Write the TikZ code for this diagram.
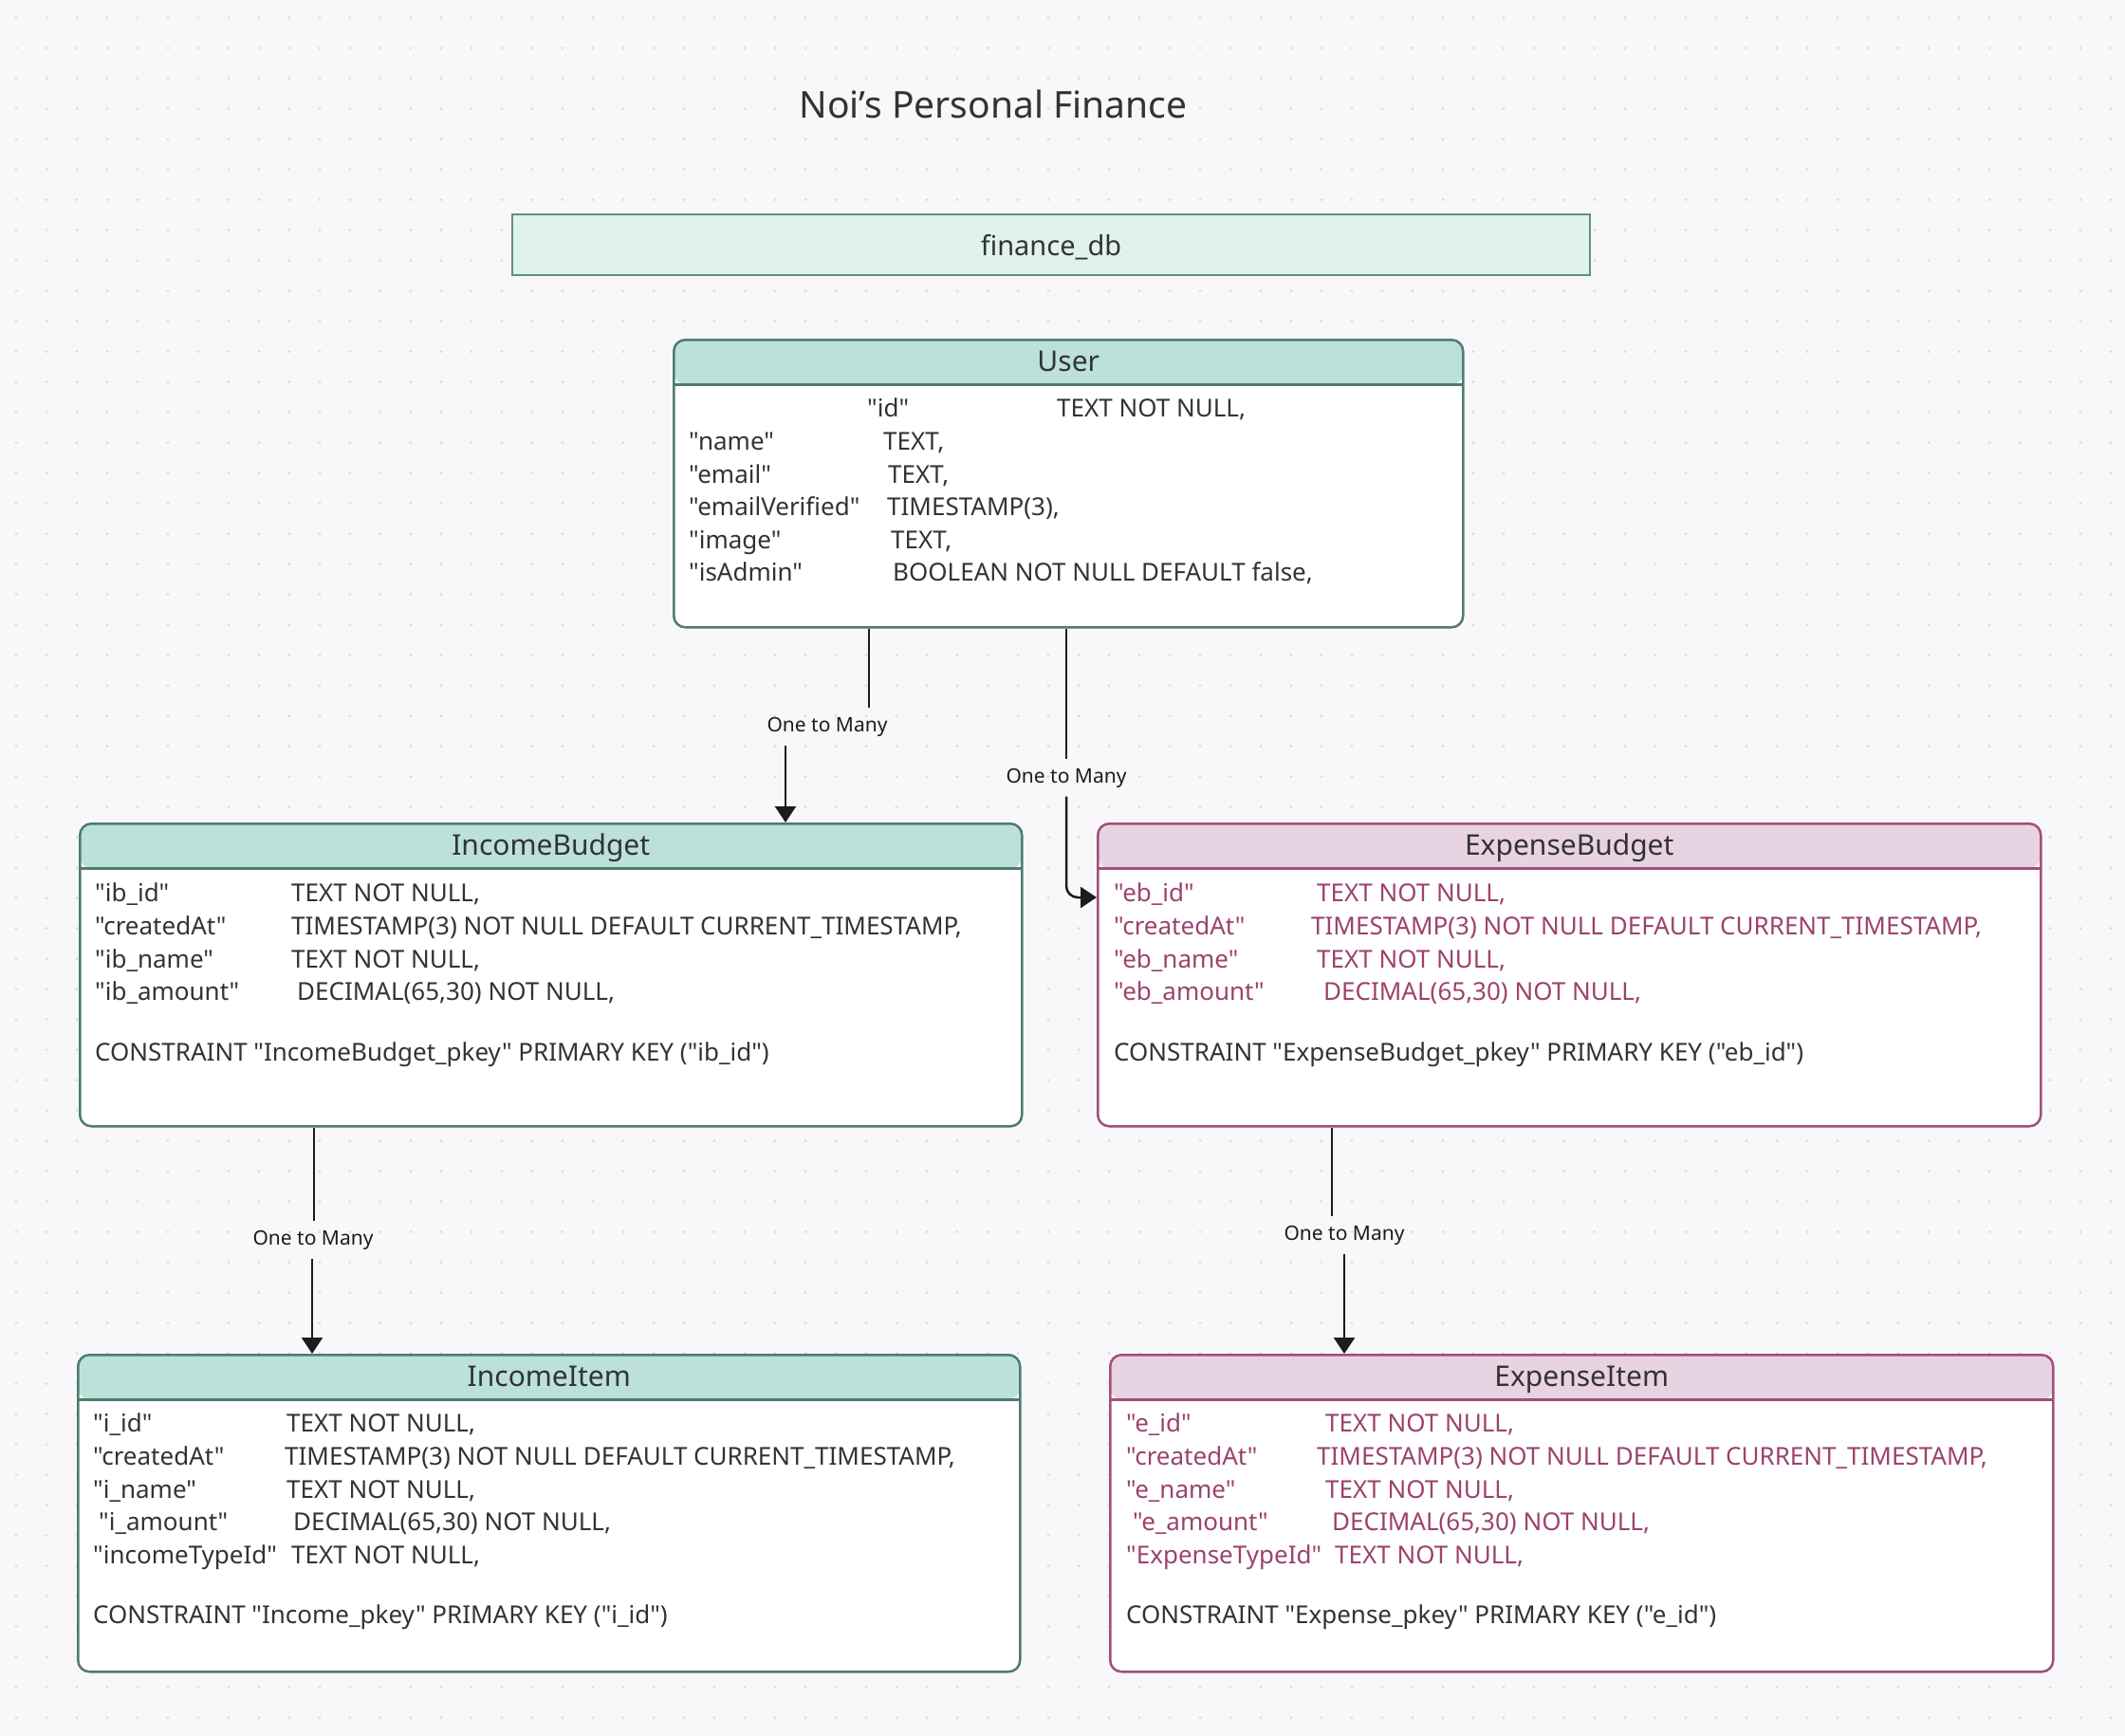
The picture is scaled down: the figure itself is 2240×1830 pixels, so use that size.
\documentclass[tikz,border=0pt]{standalone}
\usepackage{fontspec}
\setmainfont{Noto Sans}[Ligatures=TeXOff]
\usetikzlibrary{arrows.meta}

\definecolor{bgcol}{HTML}{F8F8FA}
\definecolor{dotcol}{HTML}{D9D9DF}
\definecolor{inkcol}{HTML}{333333}
\definecolor{linecol}{HTML}{1C1C1C}
\definecolor{dbfill}{HTML}{DDF1EB}
\definecolor{dbline}{HTML}{5F8F86}
\definecolor{tealhead}{HTML}{BBE1D8}
\definecolor{tealline}{HTML}{4F7B73}
\definecolor{pinkhead}{HTML}{E8D3E3}
\definecolor{pinkline}{HTML}{A24F7A}
\definecolor{pinktext}{HTML}{9C426F}

% one column of a table row: name box, then type
\newcommand\fld[3]{\makebox[#1pt][l]{#2}#3}

\tikzset{
  dbtable/.style={draw, line width=2.5pt, rounded corners=12pt, fill=white,
    inner sep=0pt, anchor=north west},
  tealtable/.style={dbtable, draw=tealline,
    path picture={
      \fill[tealhead] (path picture bounding box.north west) rectangle
        ([yshift=-47pt]path picture bounding box.north east);
      \draw[tealline, line width=2.5pt] ([yshift=-47pt]path picture bounding box.north west)
        -- ([yshift=-47pt]path picture bounding box.north east);}},
  pinktable/.style={dbtable, draw=pinkline,
    path picture={
      \fill[pinkhead] (path picture bounding box.north west) rectangle
        ([yshift=-47pt]path picture bounding box.north east);
      \draw[pinkline, line width=2.5pt] ([yshift=-47pt]path picture bounding box.north west)
        -- ([yshift=-47pt]path picture bounding box.north east);}},
  headtext/.style={text=inkcol, font=\fontsize{30}{36}\selectfont, inner sep=0pt, anchor=base},
  bodytext/.style={anchor=north west, align=left, inner sep=0pt, text=inkcol,
    font=\fontsize{26}{34.6}\selectfont, execute at begin node=\rule{0pt}{26pt}},
  lbl/.style={font=\fontsize{21}{25}\selectfont, text=linecol, inner xsep=4pt,
    inner ysep=0pt, minimum height=39pt},
  conn/.style={draw=linecol, line width=2.5pt},
  arr/.style={-{Triangle[length=17pt,width=22pt]}},
  dotrow/.style={dotcol, line width=3pt, line cap=round, dash pattern=on 0pt off 32pt}
}

\begin{document}
\begin{tikzpicture}[x=1pt, y=-1pt]

% Canvas
\useasboundingbox (0,0) rectangle (2240,1830);
\fill[bgcol] (0,0) rectangle (2240,1830);
\foreach \j in {0,...,56}
  \draw[dotrow] (17,{18.7+32*\j}) -- (2240,{18.7+32*\j});

% Title
\node[text=inkcol, font=\fontsize{39}{44}\selectfont] (title) at (1047,110) {Noi’s Personal Finance};

% Database
\node[draw=dbline, line width=2.5pt, fill=dbfill, fill opacity=0.85, text opacity=1,
  minimum width=1136pt, minimum height=64pt, text=inkcol, text depth=0pt,
  font=\fontsize{29}{34}\selectfont] (db) at (1108,258) {finance\_db};

% User
\node[tealtable, minimum width=832pt, minimum height=303pt] (user) at (709,357) {};
\node[headtext] (user-t) at ([yshift=-34.5pt]user.north) {User};
\node[bodytext] (user-b) at ([xshift=17pt,yshift=-63pt]user.north west) {%
\hspace*{188pt}\fld{200}{"id"}{TEXT NOT NULL,}\\
\fld{205}{"name"}{TEXT,}\\
\fld{210}{"email"}{TEXT,}\\
\fld{209}{"emailVerified"}{TIMESTAMP(3),}\\
\fld{213}{"image"}{TEXT,}\\
\fld{215}{"isAdmin"}{BOOLEAN NOT NULL DEFAULT false,}};

% IncomeBudget
\node[tealtable, minimum width=993pt, minimum height=319pt] (ib) at (83,867) {};
\node[headtext] (ib-t) at ([yshift=-34.5pt]ib.north) {IncomeBudget};
\node[bodytext] (ib-b) at ([xshift=17pt,yshift=-64pt]ib.north west) {%
\fld{207}{"ib\_id"}{TEXT NOT NULL,}\\
\fld{207}{"createdAt"}{TIMESTAMP(3) NOT NULL DEFAULT CURRENT\_TIMESTAMP,}\\
\fld{207}{"ib\_name"}{TEXT NOT NULL,}\\
\fld{213}{"ib\_amount"}{DECIMAL(65,30) NOT NULL,}\\[29pt]
CONSTRAINT "IncomeBudget\_pkey" PRIMARY KEY ("ib\_id")};

% ExpenseBudget
\node[pinktable, minimum width=994pt, minimum height=319pt] (eb) at (1156,867) {};
\node[headtext] (eb-t) at ([yshift=-34.5pt]eb.north) {ExpenseBudget};
\node[bodytext, text=pinktext] (eb-b) at ([xshift=18pt,yshift=-64pt]eb.north west) {%
\fld{214}{"eb\_id"}{TEXT NOT NULL,}\\
\fld{208}{"createdAt"}{TIMESTAMP(3) NOT NULL DEFAULT CURRENT\_TIMESTAMP,}\\
\fld{214}{"eb\_name"}{TEXT NOT NULL,}\\
\fld{221}{"eb\_amount"}{DECIMAL(65,30) NOT NULL,}\\[29pt]
\color{inkcol}CONSTRAINT "ExpenseBudget\_pkey" PRIMARY KEY ("eb\_id")};

% IncomeItem
\node[tealtable, minimum width=993pt, minimum height=334pt] (ii) at (81,1427) {};
\node[headtext] (ii-t) at ([yshift=-34.5pt]ii.north) {IncomeItem};
\node[bodytext] (ii-b) at ([xshift=17pt,yshift=-63pt]ii.north west) {%
\fld{204}{"i\_id"}{TEXT NOT NULL,}\\
\fld{202}{"createdAt"}{TIMESTAMP(3) NOT NULL DEFAULT CURRENT\_TIMESTAMP,}\\
\fld{204}{"i\_name"}{TEXT NOT NULL,}\\
\fld{211}{\hspace*{6pt}"i\_amount"}{DECIMAL(65,30) NOT NULL,}\\
\fld{209}{"incomeTypeId"}{TEXT NOT NULL,}\\[29pt]
CONSTRAINT "Income\_pkey" PRIMARY KEY ("i\_id")};

% ExpenseItem
\node[pinktable, minimum width=994pt, minimum height=334pt] (ei) at (1169,1427) {};
\node[headtext] (ei-t) at ([yshift=-34.5pt]ei.north) {ExpenseItem};
\node[bodytext, text=pinktext] (ei-b) at ([xshift=18pt,yshift=-63pt]ei.north west) {%
\fld{210}{"e\_id"}{TEXT NOT NULL,}\\
\fld{201}{"createdAt"}{TIMESTAMP(3) NOT NULL DEFAULT CURRENT\_TIMESTAMP,}\\
\fld{210}{"e\_name"}{TEXT NOT NULL,}\\
\fld{217}{\hspace*{7pt}"e\_amount"}{DECIMAL(65,30) NOT NULL,}\\
\fld{220}{"ExpenseTypeId"}{TEXT NOT NULL,}\\[29pt]
\color{inkcol}CONSTRAINT "Expense\_pkey" PRIMARY KEY ("e\_id")};

% Relations
\coordinate (u-ib) at ([xshift=207pt]user.south west);
\coordinate (ib-in) at ([xshift=745pt]ib.north west);
\coordinate (u-eb) at ([xshift=415pt]user.south west);
\coordinate (eb-in) at ([yshift=-79pt]eb.north west);
\coordinate (ib-ii) at ([xshift=248pt]ib.south west);
\coordinate (ii-in) at ([xshift=248pt]ii.north west);
\coordinate (eb-ei) at ([xshift=248pt]eb.south west);
\coordinate (ei-in) at ([xshift=248pt]ei.north west);

\node[lbl] (lbl1) at (872,766) {One to Many};
\node[lbl] (lbl2) at (1124,820) {One to Many};
\node[lbl] (lbl3) at (330,1307) {One to Many};
\node[lbl] (lbl4) at (1417,1302) {One to Many};

\draw[conn] (u-ib) -- (u-ib |- lbl1.north);
\draw[conn, arr] (lbl1.south -| ib-in) -- (ib-in);

\draw[conn] (u-eb) -- (lbl2);
\draw[conn, arr, rounded corners=12pt] (lbl2) |- (eb-in);

\draw[conn] (ib-ii) -- (ib-ii |- lbl3.north);
\draw[conn, arr] (lbl3.south -| ii-in) -- (ii-in);

\draw[conn] (eb-ei) -- (eb-ei |- lbl4.north);
\draw[conn, arr] (lbl4.south -| ei-in) -- (ei-in);

\end{tikzpicture}
\end{document}
